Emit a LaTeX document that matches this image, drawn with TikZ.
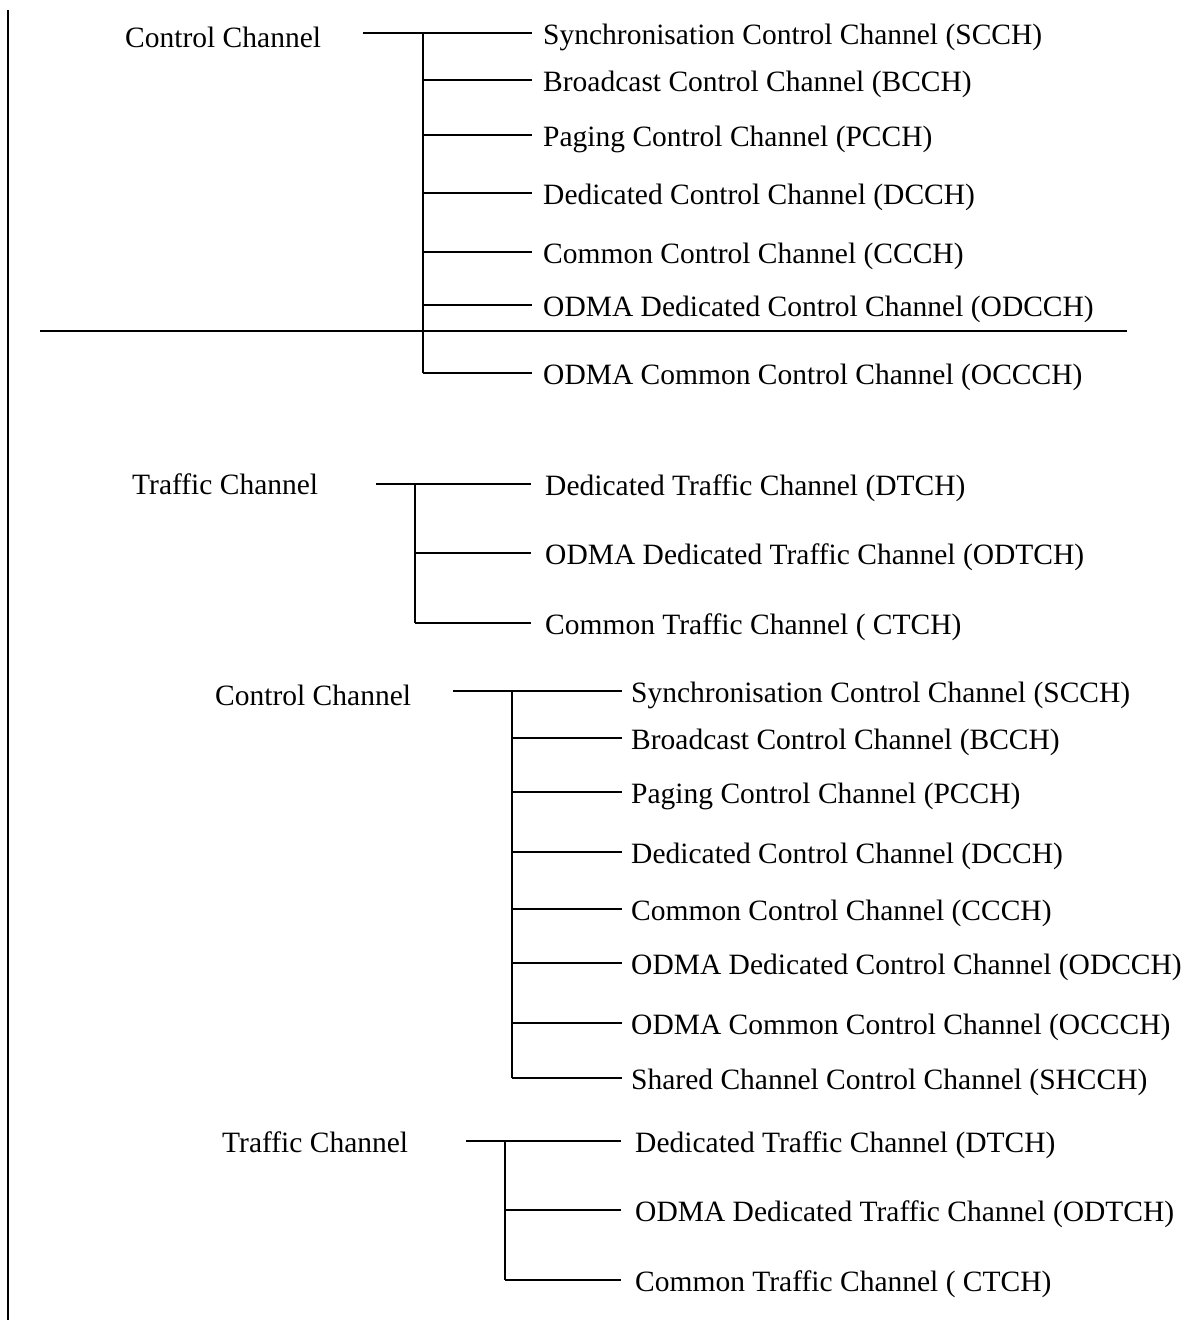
\documentclass[tikz,border=0pt]{standalone}
\usepackage{fontspec}
\newfontfamily\labfont{Liberation Serif}
\newfontfamily\leaffont{Liberation Serif}
\usepackage{tikz}
\usetikzlibrary{positioning,calc}

\begin{document}
\begin{tikzpicture}[x=1pt,y=-1pt,
  grp/.style={font=\labfont\fontsize{29.5}{34}\selectfont,anchor=west,inner sep=0pt},
  leaf/.style={font=\leaffont\fontsize{29.5}{34}\selectfont,anchor=west,inner sep=0pt},
  branch/.style={line width=1.6pt},
  frame/.style={line width=2.8pt}]

\useasboundingbox (0,0) rectangle (1181,1320);

% left border and separator
\coordinate (bt) at (8,10);
\coordinate (bb) at (8,1320);
\draw[frame] (bt) -- (bb);
\coordinate (sl) at (40,331);
\coordinate (sr) at (1127,331);
\draw[frame] (sl) -- (sr);

% first control channel
\node[grp] (ctl1) at (125,37) {Control Channel};
\coordinate (ctl1r) at (363,33);
\coordinate (trk1) at (423,33);
\foreach \y/\t [count=\i] in {33/Synchronisation Control Channel (SCCH),
  80/Broadcast Control Channel (BCCH), 135/Paging Control Channel (PCCH),
  193/Dedicated Control Channel (DCCH), 252/Common Control Channel (CCCH),
  305/ODMA Dedicated Control Channel (ODCCH), 373/ODMA Common Control Channel (OCCCH)}{
  \coordinate (a\i) at (532,\y);
  \node[leaf] (al\i) at ([xshift=11pt,yshift=-4pt]a\i) {\t};
  \draw[branch] (trk1 |- a\i) -- (a\i);
}
\draw[branch] (ctl1r) -- (trk1);
\draw[branch] (trk1) -- (trk1 |- a7);

% first traffic channel
\node[grp] (trf1) at (132,484) {Traffic Channel};
\coordinate (trf1r) at (376,484);
\coordinate (trk2) at (415,484);
\foreach \y/\t [count=\i] in {484/Dedicated Traffic Channel (DTCH),
  553/ODMA Dedicated Traffic Channel (ODTCH), 623/Common Traffic Channel ( CTCH)}{
  \coordinate (b\i) at (531,\y);
  \node[leaf] (bl\i) at ([xshift=14pt,yshift=-4pt]b\i) {\t};
  \draw[branch] (trk2 |- b\i) -- (b\i);
}
\draw[branch] (trf1r) -- (trk2);
\draw[branch] (trk2) -- (trk2 |- b3);

% second control channel
\node[grp] (ctl2) at (215,695) {Control Channel};
\coordinate (ctl2r) at (453,691);
\coordinate (trk3) at (512,691);
\foreach \y/\t [count=\i] in {691/Synchronisation Control Channel (SCCH),
  738/Broadcast Control Channel (BCCH), 792/Paging Control Channel (PCCH),
  852/Dedicated Control Channel (DCCH), 909/Common Control Channel (CCCH),
  963/ODMA Dedicated Control Channel (ODCCH), 1023/ODMA Common Control Channel (OCCCH),
  1078/Shared Channel Control Channel (SHCCH)}{
  \coordinate (c\i) at (622,\y);
  \node[leaf] (cl\i) at ([xshift=9pt,yshift=-4pt]c\i) {\t};
  \draw[branch] (trk3 |- c\i) -- (c\i);
}
\draw[branch] (ctl2r) -- (trk3);
\draw[branch] (trk3) -- (trk3 |- c8);

% second traffic channel
\node[grp] (trf2) at (222,1142) {Traffic Channel};
\coordinate (trf2r) at (466,1141);
\coordinate (trk4) at (505,1141);
\foreach \y/\t [count=\i] in {1141/Dedicated Traffic Channel (DTCH),
  1210/ODMA Dedicated Traffic Channel (ODTCH), 1280/Common Traffic Channel ( CTCH)}{
  \coordinate (d\i) at (621,\y);
  \node[leaf] (dl\i) at ([xshift=14pt,yshift=-4pt]d\i) {\t};
  \draw[branch] (trk4 |- d\i) -- (d\i);
}
\draw[branch] (trf2r) -- (trk4);
\draw[branch] (trk4) -- (trk4 |- d3);

\end{tikzpicture}
\end{document}
